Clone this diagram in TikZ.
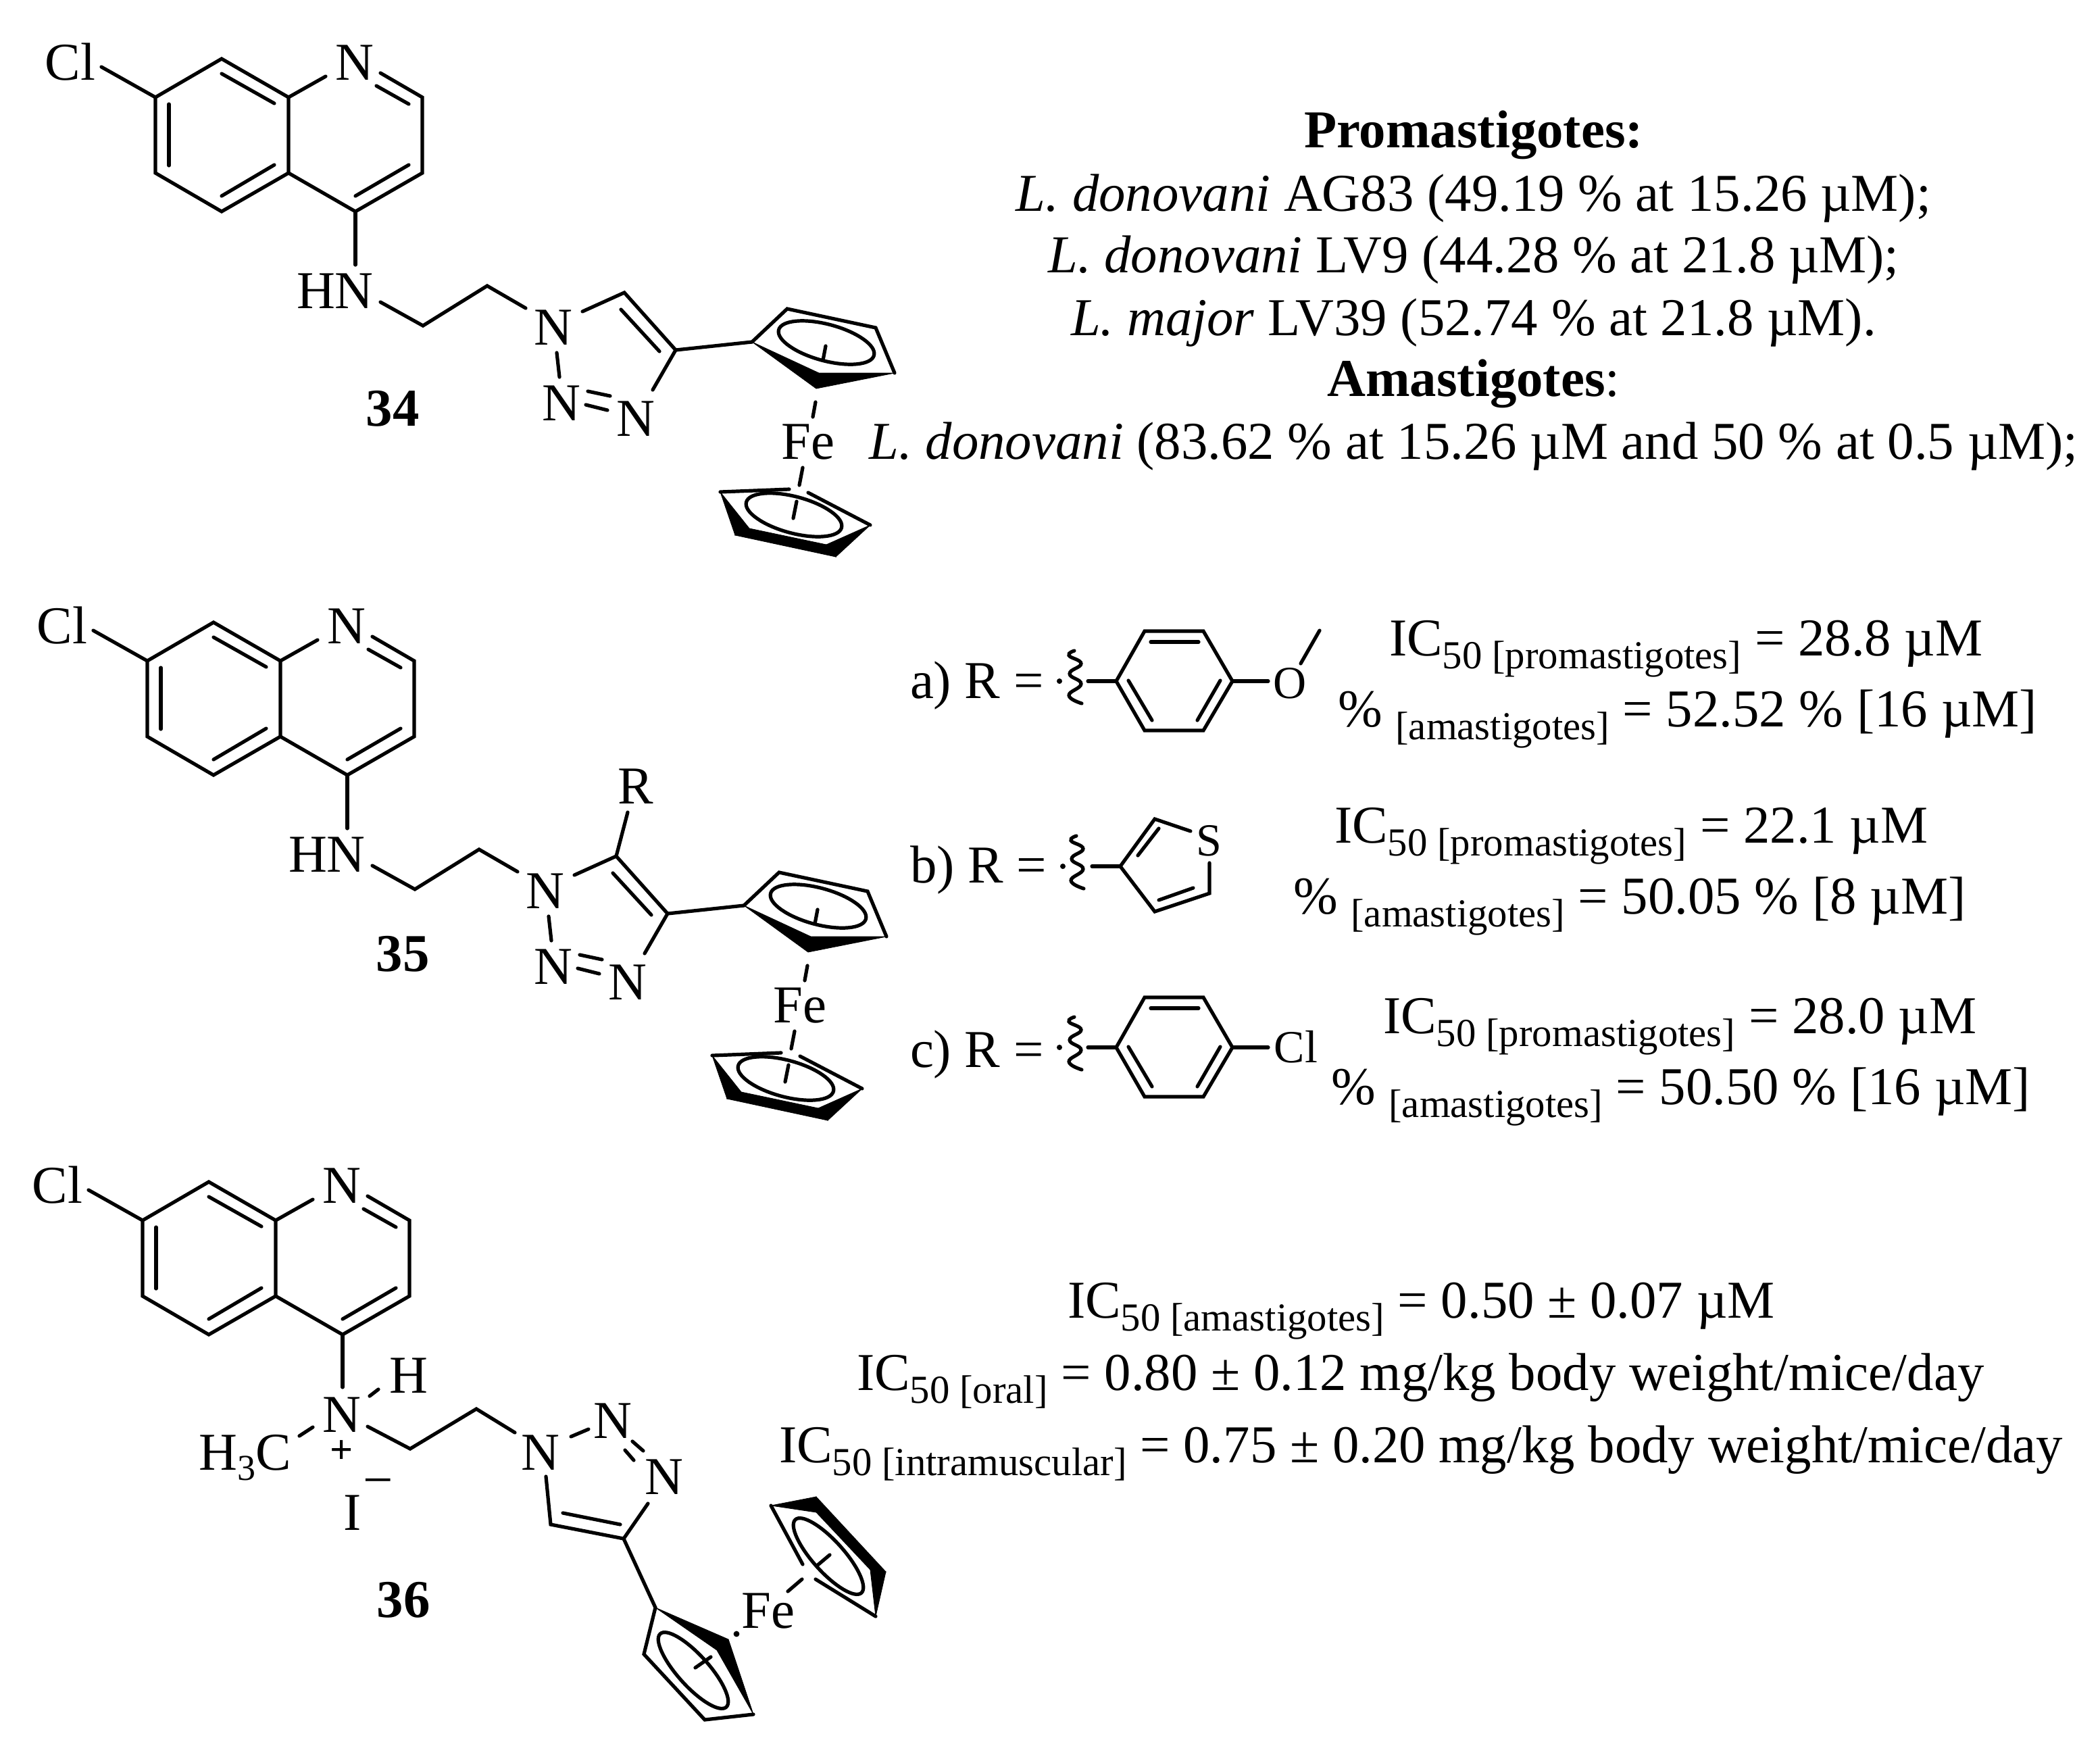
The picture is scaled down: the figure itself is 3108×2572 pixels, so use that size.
\documentclass[tikz,border=0pt]{standalone}
\usepackage{fontspec}
\setmainfont{Liberation Serif}
\newcommand{\sbc}[1]{\raisebox{-0.25em}{\fontsize{14.7}{15}\selectfont #1}}
\newcommand{\hsub}[1]{\raisebox{-0.2em}{\fontsize{13.5}{14}\selectfont #1}}
\tikzset{
  bondline/.style={line width=1.3pt,line cap=round,line join=miter},
  wedgefill/.style={fill=black,draw=black,line width=0.2pt,line join=miter},
  txt/.style={inner sep=0pt,outer sep=0pt,anchor=base,font=\fontsize{19.7}{22}\selectfont},
  txtw/.style={txt,anchor=base west},
  small atom/.style={txt,font=\fontsize{17}{20}\selectfont},
  bold num/.style={txt,font=\fontsize{19.7}{22}\selectfont\bfseries}
}
% quinoline ring with its Cl and N labels
\newcommand{\quinoline}[3]{%
\begin{scope}[shift={(#1,#2)}]
\node[txt] (cl#3) at (104,118) {Cl};
\node[txt] (nq#3) at (525,118) {N};
\draw[bondline] (150,99) -- (230,144) -- (328,87) -- (427,144) -- (482,113);
\draw[bondline] (230,144) -- (230,256) -- (328,313) -- (427,256) -- (427,144);
\draw[bondline] (427,256) -- (526,313) -- (625,256) -- (625,144) -- (563,108);
\draw[bondline] (328,109) -- (406,153);
\draw[bondline] (250,154) -- (250,245);
\draw[bondline] (328,290) -- (406,244);
\draw[bondline] (526,290) -- (605,244);
\draw[bondline] (557,127) -- (605,154);
\end{scope}}
% amine chain, triazole and ferrocene of 34 and 35
\newcommand{\triazfc}[3]{%
\begin{scope}[shift={(#1,#2)}]
\node[txt] (hn#3) at (496,456) {HN};
\node[txt] (na#3) at (819,510) {N};
\node[txt] (nb#3) at (831,622) {N};
\node[txt] (nc#3) at (941,645) {N};
\node[txt] (fe#3) at (1196,679) {Fe};
\draw[bondline] (526,313) -- (526,392);
\draw[bondline] (563,447) -- (626,482) -- (721,423) -- (778,456);
\draw[bondline] (862,461) -- (924,433) -- (1000,518) -- (966,577);
\draw[bondline] (919,458) -- (976,520);
\draw[bondline] (824,522) -- (828,558);
\draw[bondline] (870,579) -- (903,586);
\draw[bondline] (867,599) -- (899,607);
\draw[bondline] (1000,518) -- (1113,506);
\draw[bondline] (1113,506) -- (1165,457) -- (1296,485) -- (1324,552);
\fill[wedgefill] (1113,506) -- (1212,552) -- (1324,552) -- (1208,575) -- cycle;
\draw[bondline,rotate around={-15:(1223,507)}] (1223,507) ellipse [x radius=18.25pt,y radius=6.75pt];
\draw[bondline] (1222,512) -- (1218,533);
\draw[bondline] (1207,595) -- (1203,617);
\draw[bondline] (1188,692) -- (1183,718);
\draw[bondline] (1168,724) -- (1066,728);
\draw[bondline] (1196,729) -- (1288,777);
\fill[wedgefill] (1066,728) -- (1109,782) -- (1088,792) -- cycle;
\fill[wedgefill] (1088,792) -- (1109,782) -- (1223,806) -- (1237,824) -- cycle;
\fill[wedgefill] (1288,777) -- (1223,806) -- (1237,824) -- cycle;
\draw[bondline,rotate around={-15:(1175,762)}] (1175,762) ellipse [x radius=18.25pt,y radius=6.75pt];
\draw[bondline] (1179,742) -- (1174,767);
\end{scope}}
\newcommand{\squig}[2]{%
\draw[bondline,shift={(#1,#2)}] plot[smooth,tension=0.8] coordinates {(-1,-45) (-9,-38) (9,-26) (-8,-11) (9,4) (-9,21) (10,33)};}
\newcommand{\phring}[1]{%
\begin{scope}[shift={(0,#1)}]
\draw[bondline] (1610,1008) -- (1652,1008);
\draw[bondline] (1652,1008) -- (1694,934) -- (1781,934) -- (1824,1008) -- (1781,1081) -- (1694,1081) -- cycle;
\draw[bondline] (1703,950) -- (1774,950);
\draw[bondline] (1670,1007) -- (1705,1066);
\draw[bondline] (1806,1007) -- (1772,1066);
\draw[bondline] (1824,1008) -- (1877,1008);
\fill (1568,1008) circle (1pt);
\end{scope}
\squig{1591}{1008+#1}}
\begin{document}
\begin{tikzpicture}[x=0.25pt,y=-0.25pt]
\useasboundingbox (0,0) rectangle (3108,2572);
\fill[white] (0,0) rectangle (3108,2572);
% --- 34
\quinoline{0}{0}{a}
\triazfc{0}{0}{a}
\node[bold num] (lab34) at (581,630) {34};
% --- 35
\quinoline{-12}{834}{b}
\triazfc{-12}{834}{b}
\node[txt] (rr) at (941,1189) {R};
\draw[bondline] (929,1202) -- (912,1267);
\node[bold num] (lab35) at (596,1437) {35};
% --- 36
\quinoline{-19}{1662}{c}
\node[txt] (nplus) at (506,2119) {N};
\node[txt] (hh) at (605,2061) {H};
\node[txt] (hthree) at (363,2175) {H\hsub{3}C};
\node[txt,font=\fontsize{15}{16}\selectfont\bfseries] (plus) at (506,2165) {+};
\node[txt] (iod) at (522,2264) {I};
\node[txt] (minus) at (560,2216) {−};
\node[txt] (n1c) at (800,2175) {N};
\node[txt] (n2c) at (907,2128) {N};
\node[txt] (n3c) at (983,2211) {N};
\node[bold num] (lab36) at (597,2393) {36};
\node[txt] (fec) at (1137,2409) {Fe};
\draw[bondline] (507,1975) -- (507,2053);
\draw[bondline] (547,2066) -- (560,2056);
\draw[bondline] (443,2125) -- (463,2112);
\draw[bondline] (544,2111) -- (607,2144) -- (705,2085) -- (762,2120);
\draw[bondline] (845,2126) -- (871,2115);
\draw[bondline] (936,2133) -- (952,2147);
\draw[bondline] (925,2146) -- (938,2161);
\draw[bondline] (808,2185) -- (815,2256) -- (923,2277) -- (959,2225);
\draw[bondline] (833,2239) -- (918,2256);
\draw[bondline] (923,2277) -- (970,2379);
\draw[bondline] (970,2379) -- (953,2448) -- (1043,2545) -- (1115,2537);
\fill[wedgefill] (970,2379) -- (1078,2426) -- (1115,2537) -- (1061,2442) -- cycle;
\draw[bondline,rotate around={-48:(1026,2472)}] (1026,2472) ellipse [x radius=18.25pt,y radius=5.75pt];
\draw[bondline] (1052,2452) -- (1029,2468);
\fill (1090,2418) circle (1.1pt);
\draw[bondline] (1187,2337) -- (1166,2355);
\draw[bondline] (1188,2315) -- (1141,2228);
\draw[bondline] (1207,2337) -- (1296,2392);
\fill[wedgefill] (1141,2228) -- (1208,2215) -- (1208,2238) -- cycle;
\fill[wedgefill] (1208,2215) -- (1311,2326) -- (1288,2323) -- (1208,2238) -- cycle;
\fill[wedgefill] (1311,2326) -- (1296,2392) -- (1288,2323) -- cycle;
\draw[bondline,rotate around={-48:(1226,2303)}] (1226,2303) ellipse [x radius=18.25pt,y radius=5.75pt];
\draw[bondline] (1228,2301) -- (1209,2317);
% --- top text
\node[txt] (t1) at (2181,218) {\textbf{Promastigotes:}};
\node[txt] (t2) at (2181,312) {\textit{L. donovani} AG83 (49.19 \% at 15.26 µM);};
\node[txt] (t3) at (2181,403) {\textit{L. donovani} LV9 (44.28 \% at 21.8 µM);};
\node[txt] (t4) at (2181,496) {\textit{L. major} LV39 (52.74 \% at 21.8 µM).};
\node[txt] (t5) at (2181,586) {\textbf{Amastigotes}:};
\node[txt] (t6) at (2181,679) {\textit{L. donovani} (83.62 \% at 15.26 µM and 50 \% at 0.5 µM);};
% --- R rows
\node[txtw] (ra) at (1347,1033) {a) R =};
\phring{0}
\node[small atom] (oo) at (1909,1033) {O};
\draw[bondline] (1925,982) -- (1953,933);
\node[txtw] (ia) at (2056,970) {IC\sbc{50 [promastigotes]} = 28.8 µM};
\node[txtw] (pa) at (1980,1075) {\% \sbc{[amastigotes]} = 52.52 \% [16 µM]};
\node[txtw] (rb) at (1347,1306) {b) R =};
\fill (1573,1282) circle (1pt);
\squig{1594}{1282}
\draw[bondline] (1616,1282) -- (1658,1282);
\node[small atom] (ss) at (1789,1266) {S};
\draw[bondline] (1658,1282) -- (1709,1212) -- (1762,1230);
\draw[bondline] (1790,1277) -- (1790,1322) -- (1709,1349) -- (1658,1282);
\draw[bondline] (1684,1266) -- (1715,1226);
\draw[bondline] (1766,1314) -- (1715,1332);
\node[txtw] (ib) at (1975,1247) {IC\sbc{50 [promastigotes]} = 22.1 µM};
\node[txtw] (pb) at (1914,1352) {\% \sbc{[amastigotes]} = 50.05 \% [8 µM]};
\node[txtw] (rc) at (1347,1579) {c) R =};
\phring{542}
\node[small atom] (clc) at (1918,1572) {Cl};
\node[txtw] (ic) at (2047,1529) {IC\sbc{50 [promastigotes]} = 28.0 µM};
\node[txtw] (pc) at (1970,1634) {\% \sbc{[amastigotes]} = 50.50 \% [16 µM]};
% --- bottom text
\node[txtw] (b1) at (1580,1950) {IC\sbc{50 [amastigotes]} = 0.50 ± 0.07 µM};
\node[txtw] (b2) at (1268,2057) {IC\sbc{50 [oral]} = 0.80 ± 0.12 mg/kg body weight/mice/day};
\node[txtw] (b3) at (1153,2164) {IC\sbc{50 [intramuscular]} = 0.75 ± 0.20 mg/kg body weight/mice/day};
\end{tikzpicture}
\end{document}
